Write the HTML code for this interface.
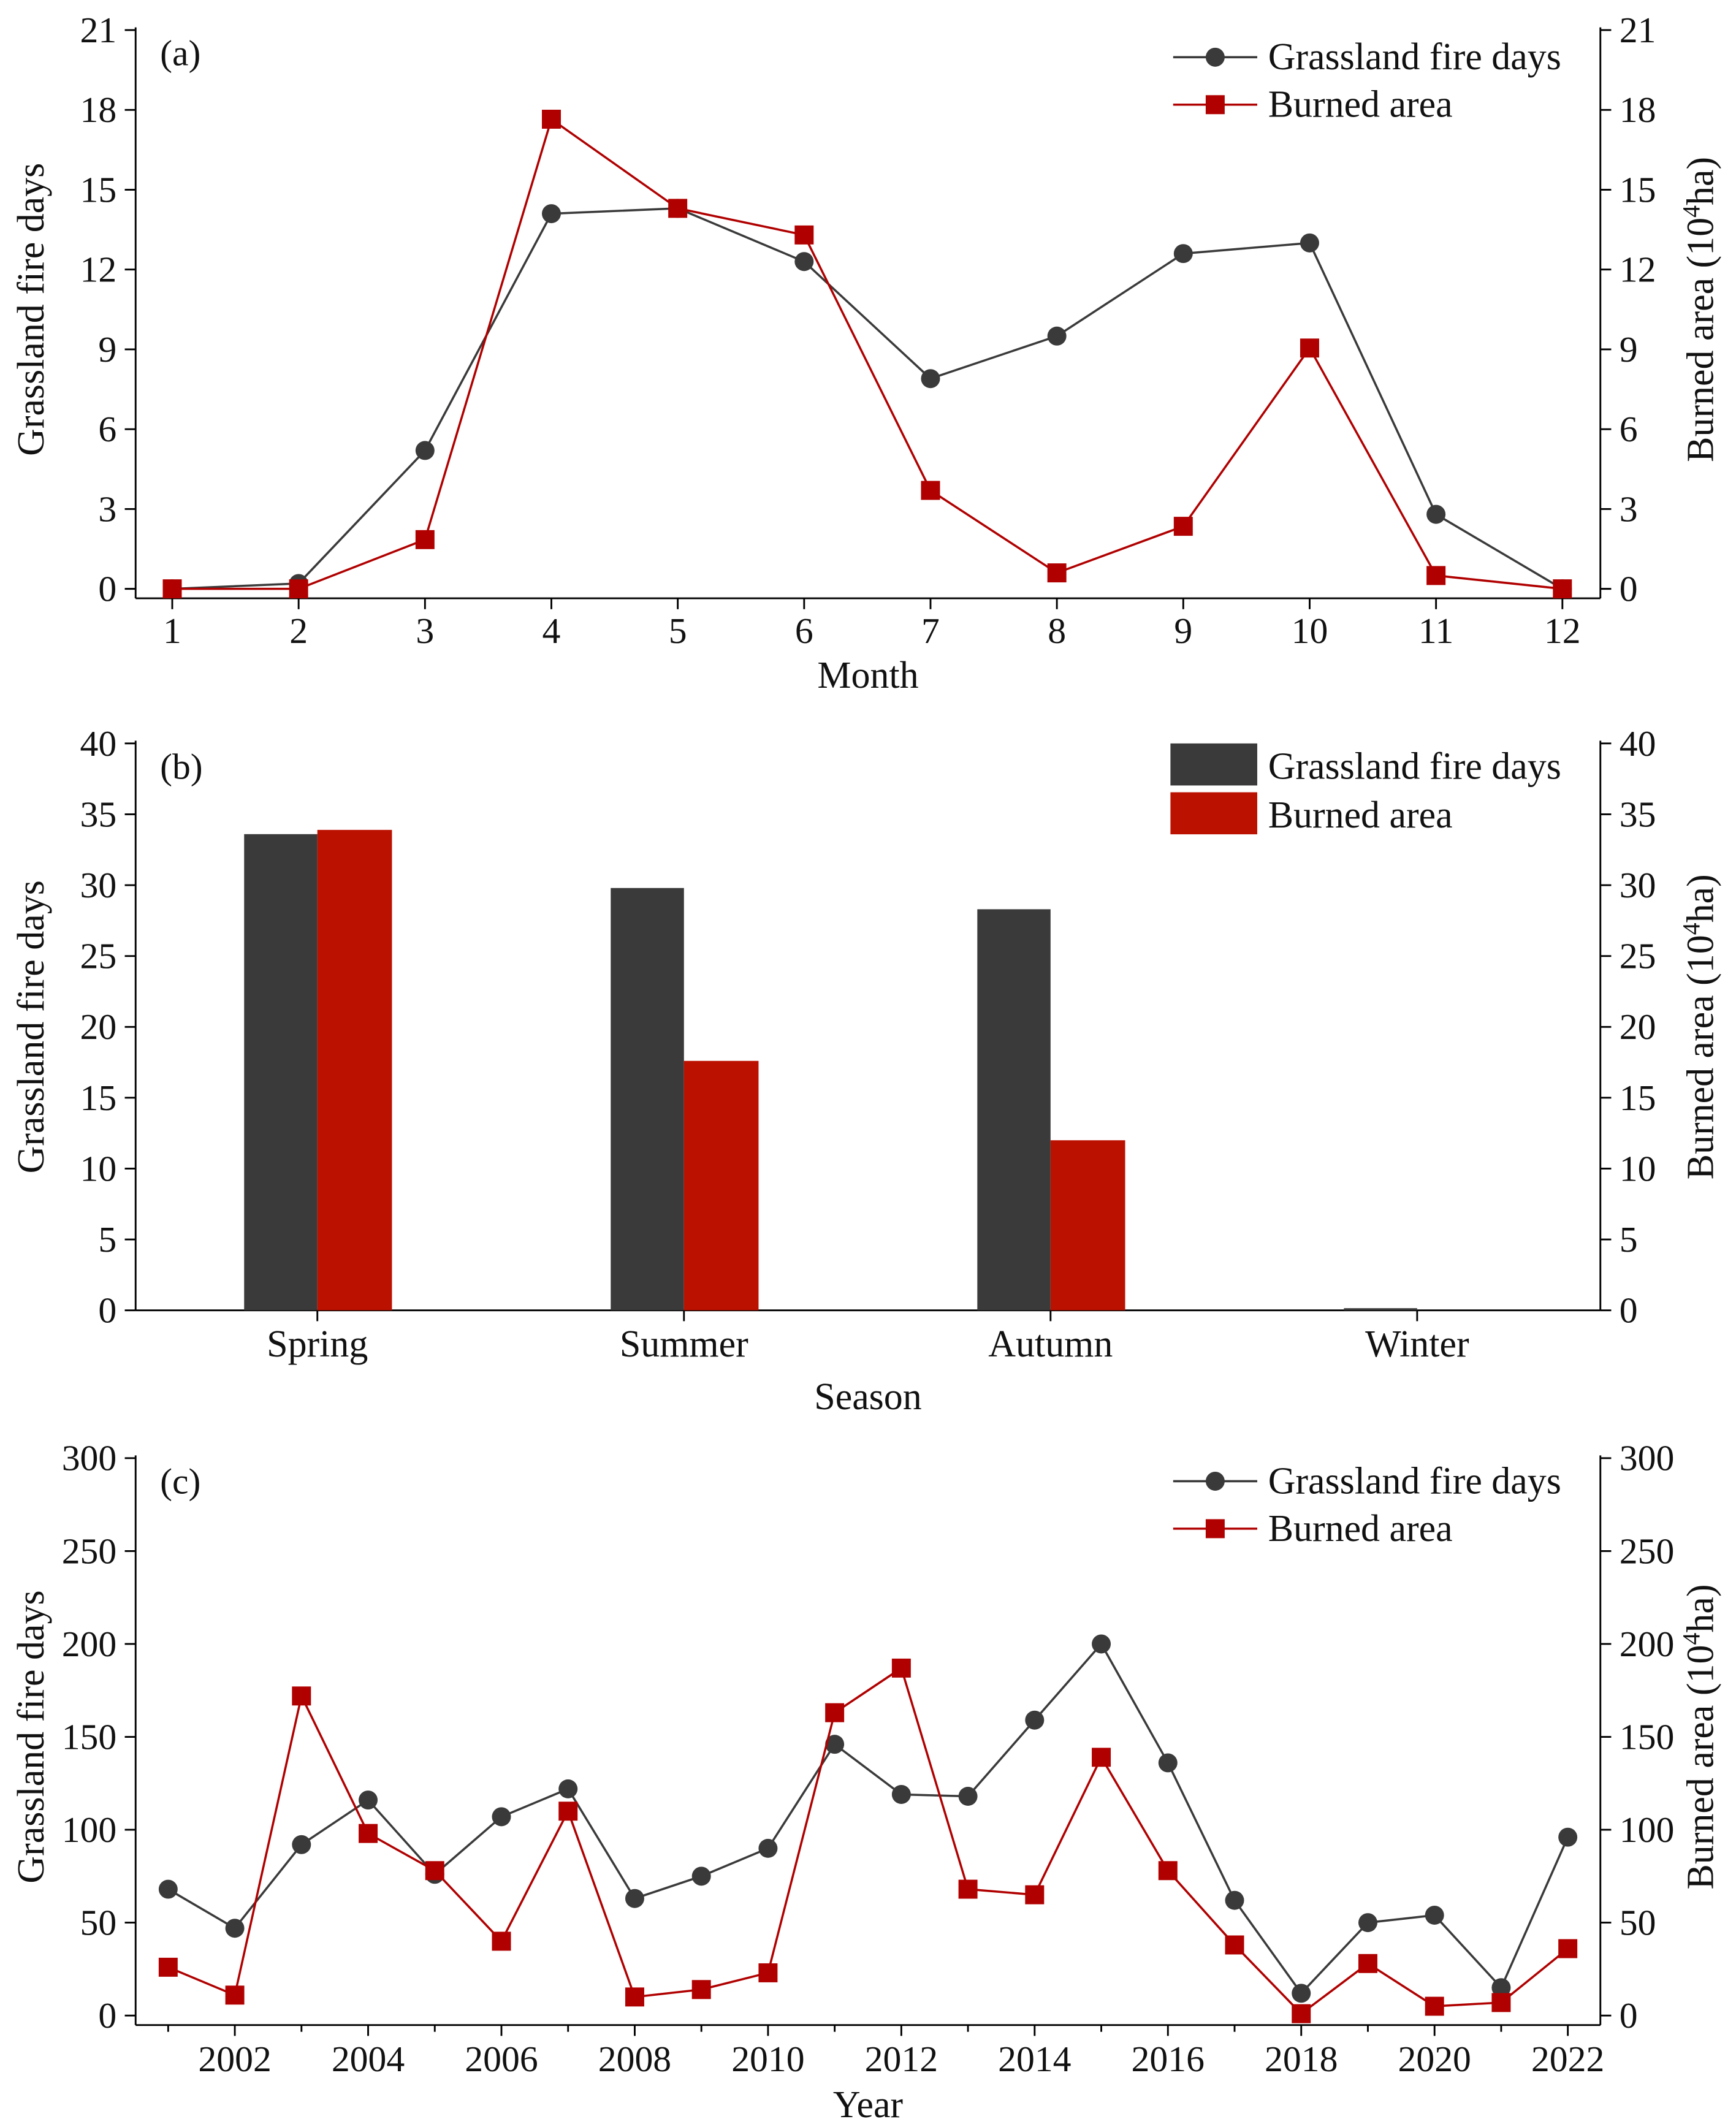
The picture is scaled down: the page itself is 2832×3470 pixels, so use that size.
<!DOCTYPE html>
<html><head><meta charset="utf-8"><style>html,body{margin:0;padding:0;background:#fff}svg{display:block}text{font-family:"Liberation Serif",serif;fill:#111}</style></head>
<body>
<svg id="chart" width="2832" height="3470" viewBox="0 0 1280 1568" xmlns="http://www.w3.org/2000/svg"></svg>
<script>
// Panel (a) data
const months = [1,2,3,4,5,6,7,8,9,10,11,12];
const monthFireDays = [0,0.2,5.2,14.1,14.3,12.3,7.9,9.5,12.6,13.0,2.8,0];
const monthBurned = [0,0,1.85,17.65,14.3,13.3,3.7,0.6,2.35,9.05,0.5,0];
const aTicks = [0,3,6,9,12,15,18,21];
// Panel (b) data
const seasons = ["Spring","Summer","Autumn","Winter"];
const seasonFireDays = [33.6,29.8,28.3,0.15];
const seasonBurned = [33.9,17.6,12.0,0];
const bTicks = [0,5,10,15,20,25,30,35,40];
// Panel (c) data
const years = [2001,2002,2003,2004,2005,2006,2007,2008,2009,2010,2011,2012,2013,2014,2015,2016,2017,2018,2019,2020,2021,2022];
const yearFireDays = [68,47,92,116,76,107,122,63,75,90,146,119,118,159,200,136,62,12,50,54,15,96];
const yearBurned = [26,11,172,98,78,40,110,10,14,23,163,187,68,65,139,78,38,1,28,5,7,36];
const cTicks = [0,50,100,150,200,250,300];

const NS="http://www.w3.org/2000/svg";
const svg=document.getElementById('chart');
function mk(tag,attrs,parent){const e=document.createElementNS(NS,tag);for(const k in attrs)e.setAttribute(k,attrs[k]);(parent||svg).appendChild(e);return e;}
function txt(s,x,y,attrs,parent){const e=mk('text',Object.assign({x:x,y:y,'font-size':27},attrs||{}),parent);e.textContent=s;return e;}
const DARK="#3a3a3a", RED="#b00000";
const L=100,R=1180;

function frame(g,yTop,yBot,axisBot,ticks,maxV,label,xTitle,xTitleY){
  const y=v=>yBot-(v/maxV)*(yBot-yTop);
  let e=mk('line',{x1:L,y1:yTop-2,x2:L,y2:axisBot,stroke:'#000','stroke-width':1.3},g);
  
  e=mk('line',{x1:R,y1:yTop-2,x2:R,y2:axisBot,stroke:'#000','stroke-width':1.3},g);
  
  e=mk('line',{x1:L,y1:axisBot,x2:R,y2:axisBot,stroke:'#000','stroke-width':1.3},g);
  
  ticks.forEach(t=>{
    const yy=y(t);
    mk('line',{x1:L-8,y1:yy,x2:L,y2:yy,stroke:'#000','stroke-width':1.3},g);
    mk('line',{x1:R,y1:yy,x2:R+8,y2:yy,stroke:'#000','stroke-width':1.3},g);
    let a=txt(String(t),L-14,yy+9,{'text-anchor':'end'},g);
    
    a=txt(String(t),R+14,yy+9,{'text-anchor':'start'},g);
    
  });
  const mid=(yTop+yBot)/2;
  let t1=txt('Grassland fire days',32,mid,{'text-anchor':'middle','font-size':28,transform:`rotate(-90 32 ${mid})`},g);
  
  let t2=mk('text',{x:1263,y:mid,'font-size':28,'text-anchor':'middle',transform:`rotate(-90 1263 ${mid})`},g);
  t2.innerHTML='Burned area (10<tspan font-size="18" dy="-10">4</tspan><tspan dy="10">ha)</tspan>';
  
  let t3=txt(xTitle,640,xTitleY,{'text-anchor':'middle','font-size':28},g);
  
  let t4=txt(label,118,yTop+26,{},g);
  
  return y;
}
function lineLegend(g,yTop){
  const items=[["Grassland fire days",DARK,'circle'],["Burned area",RED,'square']];
  items.forEach((it,i)=>{
    const yy=yTop+20+i*35;
    const lg=mk('g',{},g);
    
    mk('line',{x1:865,y1:yy,x2:927,y2:yy,stroke:it[1],'stroke-width':1.6},lg);
    if(it[2]=='circle')mk('circle',{cx:896,cy:yy,r:7,fill:it[1]},lg);
    else mk('rect',{x:889,y:yy-7,width:14,height:14,fill:it[1]},lg);
    txt(it[0],935,yy+9,{'font-size':28},lg);
  });
}
function series(g,xs,vals,x,y,color,shape,name){
  const sg=mk('g',{},g);
  
  const pts=xs.map((d,i)=>x(d)+','+y(vals[i])).join(' ');
  mk('polyline',{points:pts,fill:'none',stroke:color,'stroke-width':1.6},sg);
  xs.forEach((d,i)=>{
    let m;
    if(shape=='circle')m=mk('circle',{cx:x(d),cy:y(vals[i]),r:7,fill:color},sg);
    else m=mk('rect',{x:x(d)-7,y:y(vals[i])-7,width:14,height:14,fill:color},sg);
    
  });
}

// Panel a
const ga=mk('g',{});
const ya=frame(ga,22,434,441,aTicks,21,'(a)','Month',507);
const xa=m=>127+(m-1)*(1152-127)/11;
months.forEach(m=>{mk('line',{x1:xa(m),y1:441,x2:xa(m),y2:449,stroke:'#000','stroke-width':1.3},ga);
 const t=txt(String(m),xa(m),474,{'text-anchor':'middle'},ga);});
series(ga,months,monthFireDays,xa,ya,DARK,'circle','fire-days-series');
series(ga,months,monthBurned,xa,ya,RED,'square','burned-area-series');
lineLegend(ga,22);

// Panel b
const gb=mk('g',{});
const yb=frame(gb,548,966,966,bTicks,40,'(b)','Season',1039);
const xb=i=>234+i*270.3;
seasons.forEach((s,i)=>{
  mk('line',{x1:xb(i),y1:966,x2:xb(i),y2:974,stroke:'#000','stroke-width':1.3},gb);
  const t=txt(s,xb(i),1000,{'text-anchor':'middle','font-size':28},gb);
  let b=mk('rect',{x:xb(i)-54,y:yb(seasonFireDays[i]),width:54,height:966-yb(seasonFireDays[i]),fill:DARK},gb);
  
  b=mk('rect',{x:xb(i),y:yb(seasonBurned[i]),width:55,height:966-yb(seasonBurned[i]),fill:'#bb1100'},gb);
  
});
[["Grassland fire days",DARK,548],["Burned area",'#bb1100',584]].forEach(it=>{
  const lg=mk('g',{},gb);
  mk('rect',{x:863,y:it[2],width:64,height:31,fill:it[1]},lg);
  txt(it[0],935,it[2]+26,{'font-size':28},lg);
});

// Panel c
const gc=mk('g',{});
const yc=frame(gc,1075,1486,1493,cTicks,300,'(c)','Year',1561);
const xc=yr=>124+(yr-2001)*(1156-124)/21;
years.forEach(yr=>{
  const even=yr%2==0;
  mk('line',{x1:xc(yr),y1:1493,x2:xc(yr),y2:1493+(even?8:5),stroke:'#000','stroke-width':1.3},gc);
  if(even){const t=txt(String(yr),xc(yr),1527,{'text-anchor':'middle'},gc);}
});
series(gc,years,yearFireDays,xc,yc,DARK,'circle','fire-days-series');
series(gc,years,yearBurned,xc,yc,RED,'square','burned-area-series');
lineLegend(gc,1072);
</script>
</body></html>
